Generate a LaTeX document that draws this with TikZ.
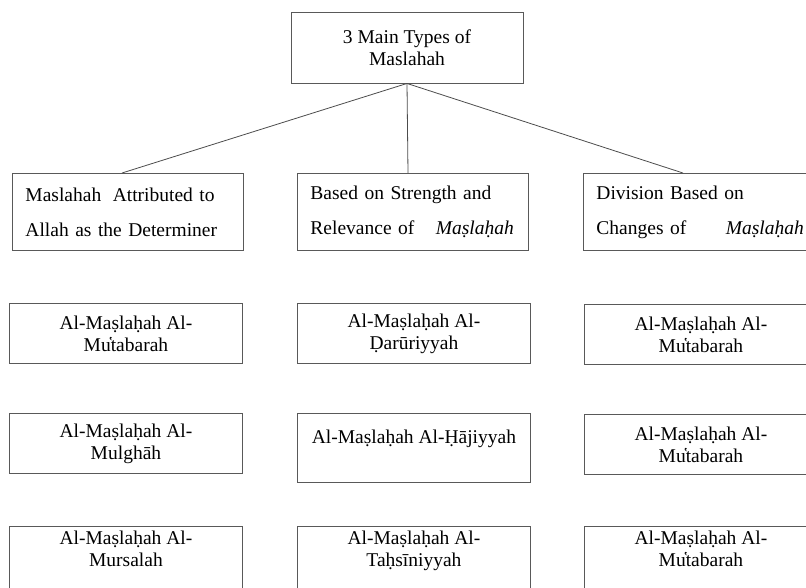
\documentclass[tikz,border=0pt]{standalone}
\usepackage{fontspec}
\setmainfont{Liberation Serif}
\usepackage{tikz}
\usetikzlibrary{positioning,calc}

\begin{document}
\begin{tikzpicture}[x=1pt,y=-1pt,
    box/.style={draw=black!65, line width=0.9pt, inner sep=0pt, font=\fontsize{19.5}{22}\selectfont},
    headbox/.style={box, minimum width=232pt, minimum height=71pt, align=center},
    catbox/.style={box, anchor=north west, minimum width=231pt, minimum height=77pt,
                   text width=205pt, inner xsep=13pt, align=left, font=\fontsize{19.5}{35}\selectfont},
    subbox/.style={box, anchor=north west, minimum width=233pt, minimum height=60pt, align=center},
    link/.style={draw=black!70, line width=0.8pt}]
  \clip (0,0) rectangle (806,587);

  % top
  \node[headbox] (main) at (407,47.5) {3 Main Types of\\Maslahah};

  % three kinds
  \node[catbox] (det) at (12,173) {Maslahah\hspace{5pt} Attributed to\\Allah as the Determiner};
  \node[catbox] (str) at (297,173) {Based on Strength and\\Relevance of\hspace{15pt} \textit{Maṣlaḥah}};
  \node[catbox, text width=240pt] (chg) at (583,173) {Division Based on\\Changes of\hspace{33pt} \textit{Maṣlaḥah}};

  \foreach \c/\d in {det/110,str/111,chg/100}
    \draw[link] (main.south) -- ([xshift=\d pt]\c.north west);

  % first column
  \node[subbox] (detA) at (9,303) {Al-Maṣlaḥah Al-\\Mu̔tabarah};
  \node[subbox] (detB) at (9,413) {Al-Maṣlaḥah Al-\\Mulghāh};
  \node[subbox, minimum height=70pt] (detC) at (9,526) {Al-Maṣlaḥah Al-\\Mursalah\\[4pt]\mbox{}};

  % second column
  \node[subbox] (strA) at (297,303) {Al-Maṣlaḥah Al-\\Ḍarūriyyah};
  \node[subbox, minimum height=69pt] (strB) at (297,413) {Al-Maṣlaḥah Al-Ḥājiyyah\\\mbox{}};
  \node[subbox, minimum height=70pt] (strC) at (297,526) {Al-Maṣlaḥah Al-\\Taḥsīniyyah\\[4pt]\mbox{}};

  % third column
  \node[subbox] (chgA) at (584,304) {Al-Maṣlaḥah Al-\\Mu̔tabarah};
  \node[subbox] (chgB) at (584,414) {Al-Maṣlaḥah Al-\\Mu̔tabarah};
  \node[subbox, minimum height=70pt] (chgC) at (584,526) {Al-Maṣlaḥah Al-\\Mu̔tabarah\\[4pt]\mbox{}};
\end{tikzpicture}
\end{document}
